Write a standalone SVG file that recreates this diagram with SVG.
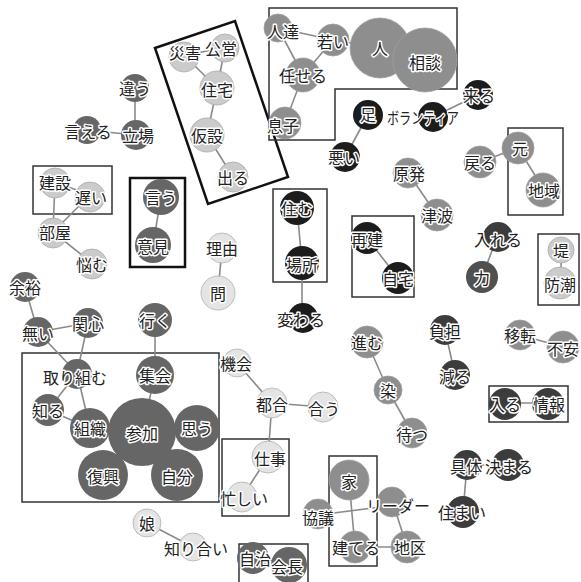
<svg xmlns="http://www.w3.org/2000/svg" width="581" height="582" viewBox="0 0 581 582">
<style>
text{font-family:"Noto Sans CJK JP","Noto Sans CJK SC",sans-serif;font-size:16px;fill:#222;stroke:#fff;stroke-width:3px;paint-order:stroke;stroke-linejoin:round;text-anchor:middle;dominant-baseline:central}
.e line{stroke:#8a8a8a;stroke-width:1.6}
.k{fill:#1c1c1c}
.d{fill:#3c3c3c}
.m{fill:#666}
.g{fill:#8e8e8e;stroke:#a0a0a0;stroke-width:0.8}
.l{fill:#cbcbcb;stroke:#aaa;stroke-width:0.8}
.w{fill:#e4e4e4;stroke:#b0b0b0;stroke-width:0.8}
.box{fill:none;stroke:#333;stroke-width:1.5}
.bx{fill:none;stroke:#111;stroke-width:2.5}
</style>
<rect width="581" height="582" fill="#fff"/>
<g id="boxes">
<polygon class="bx" points="155,48 235,21 288,177 208,204"/>
<path class="box" d="M269,8 H457 V89 H335 V140 H269 Z"/>
<rect class="bx" x="130" y="178" width="55" height="89"/>
<rect class="box" x="33" y="166" width="79" height="48"/>
<rect class="box" x="273" y="189" width="54" height="93"/>
<rect class="box" x="352" y="216" width="62" height="81"/>
<rect class="box" x="508" y="128" width="55" height="87"/>
<rect class="box" x="538" y="234" width="41" height="71"/>
<rect class="box" x="489" y="386" width="79" height="36"/>
<rect class="box" x="222" y="439" width="67" height="77"/>
<rect class="box" x="22" y="353" width="197" height="149"/>
<rect class="box" x="329" y="456" width="48" height="110"/>
<rect class="box" x="239" y="544" width="69" height="50"/>
</g>
<g id="connectors" class="e">
<line x1="184" y1="55" x2="225" y2="48"/>
<line x1="184" y1="55" x2="217" y2="88"/>
<line x1="225" y1="48" x2="217" y2="88"/>
<line x1="217" y1="88" x2="207" y2="135"/>
<line x1="207" y1="135" x2="233" y2="177"/>
<line x1="135" y1="88" x2="135" y2="135"/>
<line x1="87" y1="130" x2="135" y2="135"/>
<line x1="278" y1="28" x2="333" y2="40"/>
<line x1="278" y1="28" x2="303" y2="75"/>
<line x1="333" y1="40" x2="303" y2="75"/>
<line x1="303" y1="75" x2="285" y2="123"/>
<line x1="333" y1="40" x2="380" y2="48"/>
<line x1="380" y1="48" x2="425" y2="60"/>
<line x1="368" y1="115" x2="345" y2="157"/>
<line x1="433" y1="117" x2="478" y2="95"/>
<line x1="408" y1="173" x2="437" y2="215"/>
<line x1="480" y1="162" x2="518" y2="148"/>
<line x1="518" y1="148" x2="543" y2="188"/>
<line x1="55" y1="182" x2="90" y2="195"/>
<line x1="55" y1="182" x2="53" y2="232"/>
<line x1="90" y1="195" x2="53" y2="232"/>
<line x1="53" y1="232" x2="92" y2="263"/>
<line x1="161" y1="197" x2="153" y2="245"/>
<line x1="222" y1="248" x2="218" y2="293"/>
<line x1="297" y1="208" x2="302" y2="263"/>
<line x1="302" y1="263" x2="302" y2="317"/>
<line x1="367" y1="238" x2="398" y2="278"/>
<line x1="498" y1="235" x2="482" y2="277"/>
<line x1="562" y1="250" x2="560" y2="283"/>
<line x1="25" y1="287" x2="38" y2="332"/>
<line x1="38" y1="332" x2="88" y2="323"/>
<line x1="38" y1="332" x2="77" y2="373"/>
<line x1="88" y1="323" x2="77" y2="373"/>
<line x1="155" y1="320" x2="155" y2="375"/>
<line x1="77" y1="373" x2="48" y2="410"/>
<line x1="77" y1="373" x2="90" y2="428"/>
<line x1="48" y1="410" x2="90" y2="428"/>
<line x1="90" y1="428" x2="142" y2="432"/>
<line x1="155" y1="375" x2="142" y2="432"/>
<line x1="237" y1="363" x2="272" y2="403"/>
<line x1="272" y1="403" x2="323" y2="407"/>
<line x1="272" y1="403" x2="268" y2="457"/>
<line x1="268" y1="457" x2="242" y2="497"/>
<line x1="367" y1="342" x2="388" y2="390"/>
<line x1="388" y1="390" x2="412" y2="433"/>
<line x1="445" y1="330" x2="455" y2="375"/>
<line x1="520" y1="335" x2="563" y2="347"/>
<line x1="505" y1="403" x2="548" y2="403"/>
<line x1="147" y1="523" x2="193" y2="547"/>
<line x1="349" y1="480" x2="355" y2="547"/>
<line x1="318" y1="515" x2="412" y2="503"/>
<line x1="393" y1="503" x2="407" y2="547"/>
<line x1="355" y1="547" x2="407" y2="547"/>
<line x1="467" y1="465" x2="508" y2="465"/>
<line x1="467" y1="465" x2="463" y2="512"/>
<line x1="253" y1="557" x2="288" y2="563"/>
</g>
<g id="n-saigai"><circle class="l" cx="184" cy="57" r="15"/><text x="185" y="52">災害</text></g>
<g id="n-koei"><circle class="l" cx="225" cy="48" r="14"/><text x="221" y="48">公営</text></g>
<g id="n-jutaku"><circle class="l" cx="217" cy="88" r="17"/><text x="217" y="89">住宅</text></g>
<g id="n-kasetsu"><circle class="l" cx="207" cy="135" r="17"/><text x="207" y="135">仮設</text></g>
<g id="n-deru"><circle class="l" cx="233" cy="177" r="15"/><text x="233" y="177">出る</text></g>
<g id="n-chigau"><circle class="m" cx="135" cy="88" r="14"/><text x="135" y="88">違う</text></g>
<g id="n-tachiba"><circle class="m" cx="136" cy="135" r="15"/><text x="138" y="135">立場</text></g>
<g id="n-ieru"><circle class="m" cx="87" cy="130" r="14"/><text x="88" y="131">言える</text></g>
<g id="n-hitotachi"><circle class="g" cx="278" cy="28" r="14"/><text x="283" y="31">人達</text></g>
<g id="n-wakai"><circle class="g" cx="333" cy="40" r="16"/><text x="333" y="41">若い</text></g>
<g id="n-hito"><circle class="g" cx="380" cy="48" r="30"/><text x="380" y="48">人</text></g>
<g id="n-sodan"><circle class="g" cx="425" cy="60" r="32"/><text x="425" y="62">相談</text></g>
<g id="n-makaseru"><circle class="g" cx="303" cy="75" r="17"/><text x="303" y="75">任せる</text></g>
<g id="n-musuko"><circle class="g" cx="285" cy="123" r="16"/><text x="283" y="125">息子</text></g>
<g id="n-ashi"><circle class="k" cx="368" cy="115" r="15"/><text x="368" y="114">足</text></g>
<g id="n-warui"><circle class="k" cx="345" cy="157" r="15"/><text x="344" y="157">悪い</text></g>
<g id="n-volunteer"><circle class="k" cx="433" cy="117" r="15"/><text x="423" y="117" textLength="72" lengthAdjust="spacingAndGlyphs">ボランティア</text></g>
<g id="n-kuru"><circle class="k" cx="478" cy="95" r="15"/><text x="479" y="95">来る</text></g>
<g id="n-genpatsu"><circle class="g" cx="408" cy="173" r="15"/><text x="409" y="173">原発</text></g>
<g id="n-tsunami"><circle class="g" cx="437" cy="215" r="16"/><text x="437" y="215">津波</text></g>
<g id="n-modoru"><circle class="g" cx="480" cy="162" r="16"/><text x="480" y="162">戻る</text></g>
<g id="n-moto"><circle class="g" cx="518" cy="148" r="16"/><text x="520" y="148">元</text></g>
<g id="n-chiiki"><circle class="g" cx="543" cy="190" r="17"/><text x="544" y="190">地域</text></g>
<g id="n-kensetsu"><circle class="l" cx="55" cy="183" r="15"/><text x="55" y="182">建設</text></g>
<g id="n-osoi"><circle class="l" cx="90" cy="197" r="15"/><text x="91" y="197">遅い</text></g>
<g id="n-heya"><circle class="l" cx="53" cy="233" r="15"/><text x="55" y="232">部屋</text></g>
<g id="n-nayamu"><circle class="l" cx="92" cy="264" r="15"/><text x="92" y="264">悩む</text></g>
<g id="n-iu"><circle class="m" cx="161" cy="197" r="18"/><text x="161" y="197">言う</text></g>
<g id="n-iken"><circle class="m" cx="153" cy="245" r="18"/><text x="153" y="246">意見</text></g>
<g id="n-riyu"><circle class="w" cx="222" cy="248" r="15"/><text x="222" y="248">理由</text></g>
<g id="n-toi"><circle class="w" cx="218" cy="293" r="17"/><text x="218" y="293">問</text></g>
<g id="n-sumu"><circle class="k" cx="297" cy="208" r="17"/><text x="297" y="208">住む</text></g>
<g id="n-basho"><circle class="k" cx="302" cy="263" r="17"/><text x="302" y="264">場所</text></g>
<g id="n-kawaru"><circle class="k" cx="303" cy="318" r="15"/><text x="301" y="319">変わる</text></g>
<g id="n-saiken"><circle class="k" cx="367" cy="238" r="16"/><text x="367" y="239">再建</text></g>
<g id="n-jitaku"><circle class="k" cx="398" cy="278" r="16"/><text x="398" y="278">自宅</text></g>
<g id="n-ireru"><circle class="d" cx="498" cy="237" r="15"/><text x="498" y="239">入れる</text></g>
<g id="n-chikara"><circle class="m" cx="482" cy="277" r="16" style="fill:#505050"/><text x="482" y="277">力</text></g>
<g id="n-tsutsumi"><circle class="l" cx="561" cy="250" r="13"/><text x="561" y="250">堤</text></g>
<g id="n-bocho"><circle class="l" cx="560" cy="283" r="16"/><text x="560" y="284">防潮</text></g>
<g id="n-yoyu"><circle class="m" cx="25" cy="287" r="15"/><text x="25" y="287">余裕</text></g>
<g id="n-nai"><circle class="m" cx="38" cy="332" r="15"/><text x="38" y="333">無い</text></g>
<g id="n-kanshin"><circle class="m" cx="88" cy="323" r="15"/><text x="88" y="323">関心</text></g>
<g id="n-iku"><circle class="m" cx="155" cy="320" r="17"/><text x="155" y="320">行く</text></g>
<g id="n-torikumu"><circle class="m" cx="77" cy="374" r="15"/><text x="75" y="377">取り組む</text></g>
<g id="n-shukai"><circle class="m" cx="155" cy="375" r="19"/><text x="155" y="375">集会</text></g>
<g id="n-shiru"><circle class="m" cx="48" cy="410" r="16"/><text x="48" y="410">知る</text></g>
<g id="n-soshiki"><circle class="m" cx="90" cy="428" r="20"/><text x="90" y="428">組織</text></g>
<g id="n-sanka"><circle class="m" cx="142" cy="432" r="34"/><text x="142" y="433">参加</text></g>
<g id="n-omou"><circle class="m" cx="197" cy="428" r="23"/><text x="197" y="428">思う</text></g>
<g id="n-fukko"><circle class="m" cx="103" cy="475" r="25"/><text x="103" y="476">復興</text></g>
<g id="n-jibun"><circle class="m" cx="177" cy="475" r="26"/><text x="177" y="476">自分</text></g>
<g id="n-musume"><circle class="w" cx="147" cy="523" r="14"/><text x="147" y="523">娘</text></g>
<g id="n-shiriai"><circle class="w" cx="193" cy="547" r="14"/><text x="196" y="548">知り合い</text></g>
<g id="n-kikai"><circle class="w" cx="237" cy="363" r="14"/><text x="236" y="363">機会</text></g>
<g id="n-tsugo"><circle class="w" cx="272" cy="403" r="15"/><text x="272" y="404">都合</text></g>
<g id="n-au"><circle class="w" cx="323" cy="407" r="15"/><text x="324" y="408">合う</text></g>
<g id="n-shigoto"><circle class="w" cx="268" cy="457" r="16"/><text x="270" y="458">仕事</text></g>
<g id="n-isogashii"><circle class="w" cx="242" cy="497" r="15"/><text x="244" y="498">忙しい</text></g>
<g id="n-susumu"><circle class="g" cx="367" cy="342" r="16"/><text x="367" y="342">進む</text></g>
<g id="n-sen"><circle class="g" cx="388" cy="390" r="14"/><text x="388" y="390">染</text></g>
<g id="n-matsu"><circle class="g" cx="412" cy="433" r="15"/><text x="412" y="434">待つ</text></g>
<g id="n-futan"><circle class="d" cx="445" cy="330" r="15"/><text x="445" y="331">負担</text></g>
<g id="n-heru"><circle class="d" cx="455" cy="375" r="15"/><text x="455" y="376">減る</text></g>
<g id="n-iten"><circle class="g" cx="520" cy="335" r="15"/><text x="520" y="335">移転</text></g>
<g id="n-fuan"><circle class="g" cx="563" cy="347" r="16"/><text x="563" y="348">不安</text></g>
<g id="n-hairu"><circle class="d" cx="505" cy="404" r="16"/><text x="505" y="404">入る</text></g>
<g id="n-joho"><circle class="d" cx="548" cy="404" r="16"/><text x="549" y="404">情報</text></g>
<g id="n-ie"><circle class="g" cx="349" cy="480" r="20"/><text x="349" y="481">家</text></g>
<g id="n-kyogi"><circle class="g" cx="318" cy="514" r="15"/><text x="318" y="517">協議</text></g>
<g id="n-leader"><circle class="g" cx="392" cy="502" r="15"/><text x="398" y="505">リーダー</text></g>
<g id="n-tateru"><circle class="g" cx="355" cy="547" r="16"/><text x="356" y="547">建てる</text></g>
<g id="n-chiku"><circle class="g" cx="407" cy="547" r="16"/><text x="410" y="547">地区</text></g>
<g id="n-gutai"><circle class="d" cx="467" cy="465" r="15"/><text x="466" y="466">具体</text></g>
<g id="n-kimaru"><circle class="d" cx="508" cy="465" r="16"/><text x="509" y="466">決まる</text></g>
<g id="n-sumai"><circle class="d" cx="463" cy="512" r="16"/><text x="462" y="512">住まい</text></g>
<g id="n-jichi"><circle class="m" cx="253" cy="558" r="16"/><text x="255" y="558">自治</text></g>
<g id="n-kaicho"><circle class="m" cx="289" cy="565" r="18"/><text x="287" y="566">会長</text></g>
</svg>
